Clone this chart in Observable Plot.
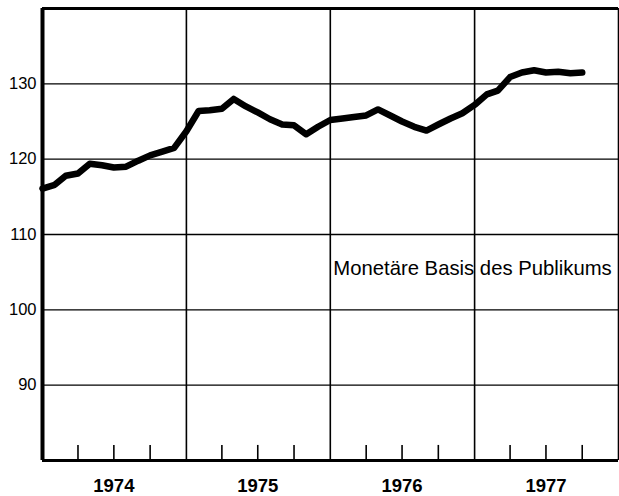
<!DOCTYPE html>
<html>
<head>
<meta charset="utf-8">
<script src="https://cdn.jsdelivr.net/npm/d3@7"></script>
<script src="https://cdn.jsdelivr.net/npm/@observablehq/plot@0.6"></script>
<style>
  html, body { margin: 0; padding: 0; background: #fff; }
  #chart svg { display: block; }
</style>
</head>
<body>
<div id="chart"></div>
<script>
// Monthly values, Jan 1974 – Oct 1977
const firstMonth = "1974-01-01";
const values = [
  116.1, 116.6, 117.8, 118.1, 119.4, 119.2, 118.9, 119.0, 119.8, 120.5, 121.0, 121.5,
  123.7, 126.4, 126.5, 126.7, 128.0, 127.0, 126.2, 125.3, 124.6, 124.5, 123.3, 124.3,
  125.2, 125.4, 125.6, 125.8, 126.6, 125.8, 125.0, 124.3, 123.8, 124.6, 125.4, 126.1,
  127.2, 128.6, 129.1, 130.9, 131.5, 131.8, 131.5, 131.6, 131.4, 131.5
];
const yTicks = [90, 100, 110, 120, 130];
const years = [1974, 1975, 1976, 1977];
const yearLabels = ["1974", "1975", "1976", "1977"];
const seriesLabel = "Monetäre Basis des Publikums";
const labelPos = {date: "1976-01-01", value: 105.5};

const start = new Date(firstMonth);
const data = values.map((v, i) => ({date: d3.utcMonth.offset(start, i), value: v}));
const x0 = new Date(Date.UTC(years[0], 0, 1));
const x1 = new Date(Date.UTC(years[years.length - 1] + 1, 0, 1));
const yearStarts = years.slice(1).map(y => new Date(Date.UTC(y, 0, 1)));
const yearMids = years.map(y => new Date(Date.UTC(y, 6, 1)));
const quarterTicks = years.flatMap(y => [3, 6, 9].map(m => new Date(Date.UTC(y, m, 1))));
const labelOf = new Map(yearMids.map((d, i) => [+d, yearLabels[i]]));

const chart = Plot.plot({
  width: 619,
  height: 496,
  marginLeft: 42,
  marginRight: 1,
  marginTop: 8,
  marginBottom: 36,
  style: {fontFamily: "'Liberation Sans', Arial, sans-serif", color: "#000", background: "#fff"},
  x: {type: "utc", domain: [x0, x1]},
  y: {domain: [80, 140]},
  marks: [
    Plot.ruleY(yTicks, {stroke: "#000", strokeWidth: 1.4}),
    Plot.ruleX(yearStarts, {stroke: "#000", strokeWidth: 1.6}),
    Plot.ruleX(quarterTicks, {y1: 80, y2: 82, stroke: "#000", strokeWidth: 1.6}),
    Plot.ruleY([140], {stroke: "#000", strokeWidth: 3}),
    Plot.ruleY([80], {stroke: "#000", strokeWidth: 3}),
    Plot.ruleX([x0], {stroke: "#000", strokeWidth: 4}),
    Plot.ruleX([x1], {stroke: "#000", strokeWidth: 1.6}),
    Plot.lineY(data, {x: "date", y: "value", stroke: "#000", strokeWidth: 6.5,
      strokeLinejoin: "round", strokeLinecap: "round"}),
    Plot.text([seriesLabel], {x: () => new Date(labelPos.date), y: () => labelPos.value,
      text: d => d, textAnchor: "start", dx: 3, fontSize: 20.3, fill: "#000"}),
    Plot.axisY({ticks: yTicks, tickSize: 0, tickPadding: 6, fontSize: 16.5, label: null}),
    Plot.axisX({ticks: yearMids, tickSize: 0, tickPadding: 18, fontSize: 18.5, fontWeight: "bold",
      tickFormat: d => labelOf.get(+d), label: null})
  ]
});
document.getElementById("chart").appendChild(chart);
</script>
</body>
</html>
